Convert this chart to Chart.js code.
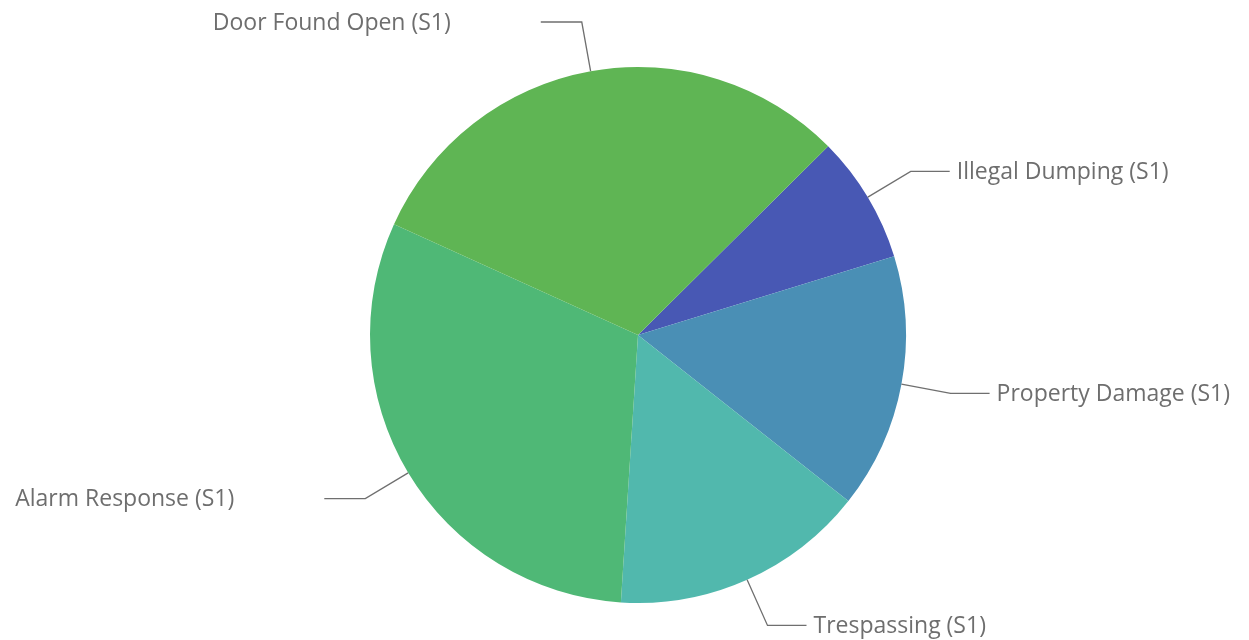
<!DOCTYPE html>
<html>
<head>
<meta charset="utf-8">
<script src="https://cdn.jsdelivr.net/npm/chart.js@4"></script>
<style>
html,body{margin:0;padding:0;background:#fff;}
#wrap{width:1249px;height:640px;position:relative;}
</style>
</head>
<body>
<div id="wrap"><canvas id="c" width="1249" height="640"></canvas></div>
<script>
const categories = ["Illegal Dumping (S1)", "Property Damage (S1)", "Trespassing (S1)", "Alarm Response (S1)", "Door Found Open (S1)"];
const values = [1, 2, 2, 4, 4];
const colors = ["#4858b4", "#4a8fb5", "#51b8ad", "#4fb876", "#5fb554"];

const leaderPlugin = {
  id: 'leaders',
  afterDraw(chart) {
    const ctx = chart.ctx;
    const meta = chart.getDatasetMeta(0);
    ctx.save();
    ctx.font = '23px "Open Sans", sans-serif';
    ctx.textBaseline = 'middle';
    meta.data.forEach((arc, i) => {
      const p = arc.getProps(['x','y','startAngle','endAngle','outerRadius'], true);
      const mid = (p.startAngle + p.endAngle) / 2;
      const r1 = p.outerRadius, r2 = p.outerRadius + 50;
      const x1 = p.x + Math.cos(mid) * r1, y1 = p.y + Math.sin(mid) * r1;
      const x2 = p.x + Math.cos(mid) * r2, y2 = p.y + Math.sin(mid) * r2;
      const right = Math.cos(mid) >= 0;
      const x3 = x2 + (right ? 39 : -41);
      ctx.strokeStyle = '#6f6f6f';
      ctx.lineWidth = 1.3;
      ctx.beginPath();
      ctx.moveTo(x1, y1); ctx.lineTo(x2, y2); ctx.lineTo(x3, y2);
      ctx.stroke();
      ctx.fillStyle = '#6e6e6e';
      if (right) { ctx.textAlign = 'left'; ctx.fillText(categories[i], x3 + 7, y2 + 1); }
      else { ctx.textAlign = 'right'; ctx.fillText(categories[i], x3 - 90, y2 + 1); }
    });
    ctx.restore();
  }
};

new Chart(document.getElementById('c'), {
  type: 'pie',
  data: {
    labels: categories,
    datasets: [{ data: values, backgroundColor: colors, borderWidth: 0 }]
  },
  options: {
    responsive: false,
    animation: false,
    rotation: 45.2,
    layout: { padding: { left: 338, right: 311, top: 67, bottom: 37 } },
    plugins: { legend: { display: false }, tooltip: { enabled: false } }
  },
  plugins: [leaderPlugin]
});
</script>
</body>
</html>
